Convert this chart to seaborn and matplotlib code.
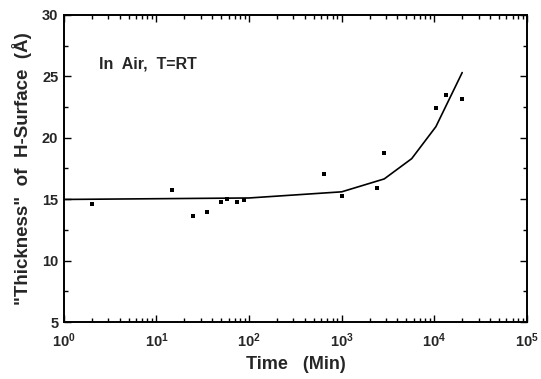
import matplotlib
matplotlib.use("Agg")
import matplotlib.pyplot as plt
import seaborn as sns
import pandas as pd
from matplotlib.ticker import LogLocator, FixedLocator, NullFormatter

# Measured thickness of the H-terminated surface layer vs. exposure time
time_min = [2.0, 14.6, 24.9, 35.3, 49.6, 58.3, 73.3, 88.5,
            642, 1012, 2382, 2877, 10400, 13250, 20000]
thickness = [14.64, 15.78, 13.62, 13.99, 14.74, 15.0, 14.78, 14.94,
             17.08, 15.29, 15.89, 18.76, 22.4, 23.48, 23.18]

# Model curve
fit_time = [1, 100, 1000, 2880, 5700, 10400, 20000]
fit_thickness = [14.98, 15.1, 15.6, 16.65, 18.3, 20.9, 25.3]

x_ticks = [1, 10, 100, 1000, 10000, 100000]
x_tick_labels = [r"$\mathbf{10^{0}}$", r"$\mathbf{10^{1}}$", r"$\mathbf{10^{2}}$",
                 r"$\mathbf{10^{3}}$", r"$\mathbf{10^{4}}$", r"$\mathbf{10^{5}}$"]
y_ticks = [5, 10, 15, 20, 25, 30]
y_tick_labels = ["5", "10", "15", "20", "25", "30"]

sns.set_style("ticks")
plt.rcParams["font.family"] = ["Liberation Sans", "DejaVu Sans"]
plt.rcParams["font.weight"] = "bold"
plt.rcParams["mathtext.fontset"] = "custom"
plt.rcParams["mathtext.bf"] = "Liberation Sans:bold"
plt.rcParams["mathtext.rm"] = "Liberation Sans:bold"

points = pd.DataFrame({"time": time_min, "thickness": thickness})
curve = pd.DataFrame({"time": fit_time, "thickness": fit_thickness})

fig = plt.figure(figsize=(5.41, 3.79), dpi=100)
ax = fig.add_axes([0.118, 0.150, 0.856, 0.811])

sns.lineplot(data=curve, x="time", y="thickness", ax=ax, color="black",
             linewidth=1.2, sort=False)
sns.scatterplot(data=points, x="time", y="thickness", ax=ax, color="black",
                marker="s", s=9, linewidth=0)

ax.set_xscale("log")
ax.set_xlim(1, 1e5)
ax.set_ylim(5, 30)

ax.xaxis.set_major_locator(FixedLocator(x_ticks))
ax.set_xticklabels(x_tick_labels)
ax.xaxis.set_minor_locator(LogLocator(base=10, subs=range(2, 10), numticks=20))
ax.xaxis.set_minor_formatter(NullFormatter())
ax.set_yticks(y_ticks)
ax.set_yticklabels(y_tick_labels)
ax.yaxis.set_minor_locator(FixedLocator([7.5, 12.5, 17.5, 22.5, 27.5]))

ax.tick_params(which="both", direction="in", top=True, right=True,
               labelsize=10.5, width=1.0, color="black")
ax.tick_params(axis="x", which="major", pad=7)
ax.tick_params(axis="y", which="major", pad=4)
ax.tick_params(which="major", length=5)
ax.tick_params(which="minor", length=3)
for lbl in ax.get_xticklabels() + ax.get_yticklabels():
    lbl.set_fontweight("bold")

for spine in ax.spines.values():
    spine.set_linewidth(1.4)
    spine.set_color("black")

ax.set_xlabel("Time   (Min)", fontsize=13, fontweight="bold", labelpad=4)
ax.set_ylabel("\"Thickness\"  of  H-Surface  (Å)", fontsize=13.5,
              fontweight="bold", labelpad=7)

ax.text(2.39, 26.0, "In  Air,  T=RT", fontsize=11.5, fontweight="bold",
        ha="left", va="center")

fig.savefig("out.png", dpi=100)
